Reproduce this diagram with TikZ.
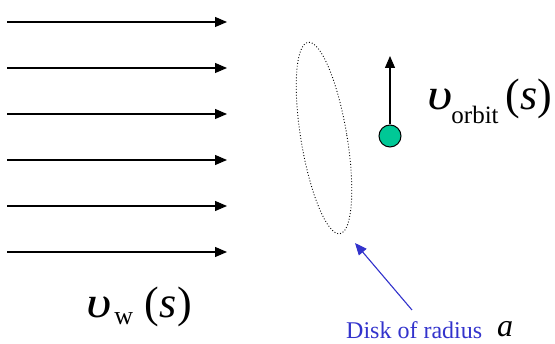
\documentclass[tikz,border=0pt]{standalone}
\usepackage{fontspec}
\setmainfont{Liberation Serif}
\usetikzlibrary{arrows.meta,positioning,shapes.geometric}
\definecolor{diskblue}{HTML}{3333CC}
\definecolor{satgreen}{HTML}{00C896}
\newcommand{\wideups}{\scalebox{1.25}[1]{\itshape υ}}

\begin{document}
\begin{tikzpicture}[
    x=1pt, y=-1pt,
    wind/.style={-{Triangle[length=12pt,width=10pt]}, line width=1.1pt},
    pointer/.style={-{Triangle[length=12pt,width=10pt]}, line width=1.1pt, draw=diskblue, fill=diskblue},
    bigmath/.style={anchor=base west, inner sep=0pt, font=\fontsize{44}{44}\selectfont}
]
\useasboundingbox (0,0) rectangle (555,344);
% incoming wind
\foreach \y [count=\i] in {22,68,114,160,206,252}{
  \coordinate (w\i a) at (7,\y);
  \coordinate (w\i b) at (227,\y);
  \draw[wind] (w\i a) -- (w\i b);
}
\node[draw, dotted, line width=0.9pt, ellipse, minimum width=46pt, minimum height=194pt, inner sep=0pt, rotate=9.5] (disk) at (324,138) {};
% satellite
\node[circle, draw, fill=satgreen, minimum size=22pt, inner sep=0pt, line width=1pt] (sat) at (390,136) {};
\coordinate (orbtip) at (390,56);
\draw[wind] (sat) -- (orbtip);
\node[bigmath] (orblabel) at (427,110) {\wideups\kern-1pt\raisebox{-14pt}{\fontsize{25}{25}\selectfont orbit}\kern7pt(\textit{s})};
\node[bigmath] (windlabel) at (86,318) {\wideups\kern3pt\raisebox{-7pt}{\fontsize{26}{26}\selectfont w}\kern11pt(\kern1pt\textit{s}\kern1pt)};
% disk label
\node[anchor=base west, inner sep=0pt, text=diskblue, font=\fontsize{24}{24}\selectfont] (disklabel) at (346,339) {Disk of radius};
\node[anchor=base west, inner sep=0pt, font=\fontsize{32}{32}\selectfont\itshape] (radius) at (497,337) {a};
\coordinate (ptr) at (412,310);
\coordinate (ptrtip) at (355,243);
\draw[pointer] (ptr) -- (ptrtip);
\end{tikzpicture}
\end{document}
